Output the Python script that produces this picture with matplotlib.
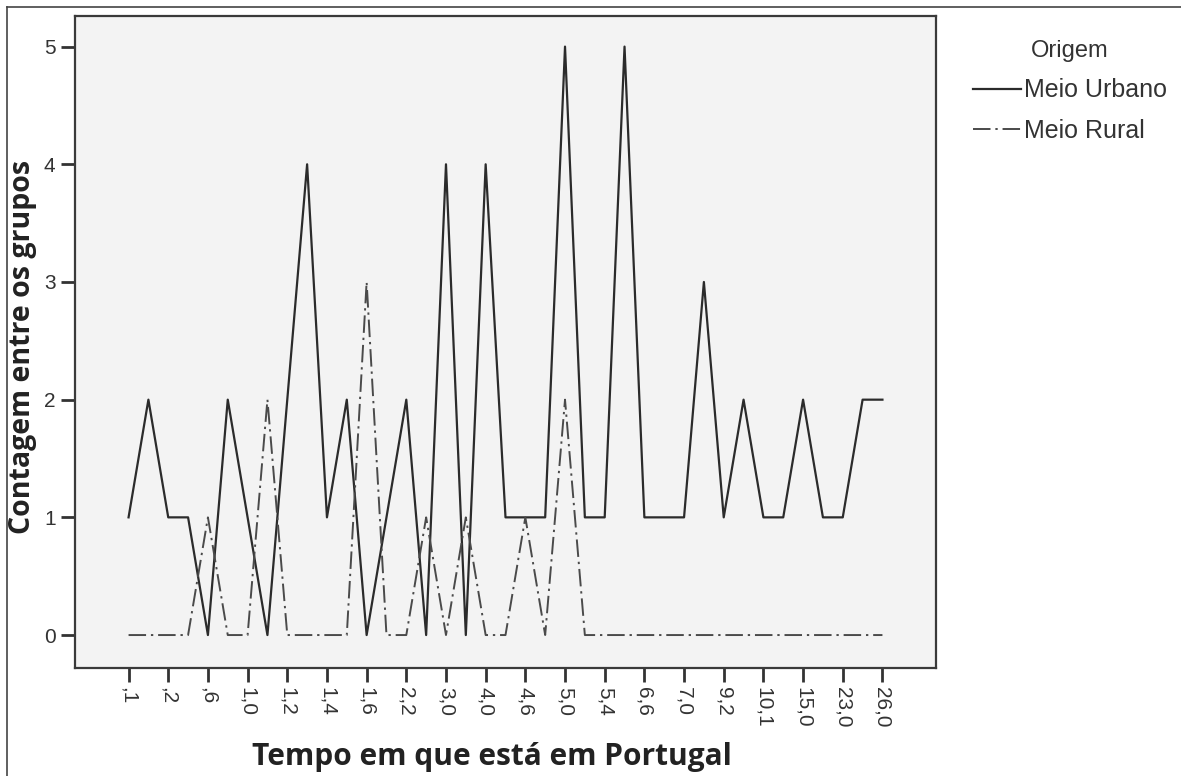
import matplotlib
matplotlib.use("Agg")
import matplotlib.pyplot as plt
from matplotlib.lines import Line2D

# categorias do eixo X (tempo em Portugal, anos) - só os pares aparecem como rótulo
tempo = [",1", ",15", ",2", ",5", ",6", ",8", "1,0", "1,1", "1,2", "1,3",
         "1,4", "1,5", "1,6", "2,0", "2,2", "2,5", "3,0", "3,5", "4,0", "4,5",
         "4,6", "4,8", "5,0", "5,2", "5,4", "6,0", "6,6", "6,8", "7,0", "8,0",
         "9,2", "10,0", "10,1", "12,0", "15,0", "20,0", "23,0", "25,0", "26,0"]

urbano = [1, 2, 1, 1, 0, 2, 1, 0, 2, 4, 1, 2, 0, 1, 2, 0, 4, 0, 4, 1,
          1, 1, 5, 1, 1, 5, 1, 1, 1, 3, 1, 2, 1, 1, 2, 1, 1, 2, 2]
rural = [0, 0, 0, 0, 1, 0, 0, 2, 0, 0, 0, 0, 3, 0, 0, 1, 0, 1, 0, 0,
         1, 0, 2, 0, 0, 0, 0, 0, 0, 0, 0, 0, 0, 0, 0, 0, 0, 0, 0]

x = list(range(len(tempo)))

fig = plt.figure(figsize=(11.81, 7.76), dpi=100)
ax = fig.add_axes([75 / 1181, 1 - 668 / 776, (936 - 75) / 1181, (668 - 16) / 776])
ax.set_facecolor("#f3f3f3")

ax.plot(x, urbano, color="#2b2b2b", linewidth=1.6, label="Meio Urbano")
ax.plot(x, rural, color="#4a4a4a", linewidth=1.4,
        linestyle=(0, (9, 2.5, 1.2, 2.5)), label="Meio Rural")

ax.set_xlim(-2.7, len(x) - 1 + 2.7)
ax.set_ylim(-0.28, 5.26)
ax.set_yticks(range(6))
ax.set_xticks(x[::2])
ax.set_xticklabels(tempo[::2], rotation=-90, family="Liberation Sans",
                   fontsize=15, color="#333333")
for lab in ax.get_yticklabels():
    lab.set_family("Liberation Sans")
ax.tick_params(axis="y", labelsize=15, labelcolor="#333333")
ax.tick_params(axis="both", direction="out", length=10, width=2, color="#333333", pad=4)

for s in ax.spines.values():
    s.set_linewidth(1.6)
    s.set_color("#3a3a3a")

ax.set_xlabel("Tempo em que está em Portugal", fontsize=21.5, fontweight="bold",
              family="Open Sans", color="#222222", va="center")
ax.xaxis.set_label_coords((492 - 75) / 861, (668 - 757) / 652)
ax.set_ylabel("Contagem entre os grupos", fontsize=20.5, fontweight="bold",
              family="Open Sans", color="#222222", va="center", ha="center")
ax.yaxis.set_label_coords((23 - 75) / 861, (668 - 347) / 652)

leg = ax.legend(title="Origem", loc="upper left", bbox_to_anchor=(963 / 1181, 1 - 30 / 776),
                bbox_transform=fig.transFigure, frameon=False, handlelength=1.9,
                handletextpad=0.15, labelspacing=0.65, borderaxespad=0,
                prop={"family": "Liberation Sans", "size": 18})
leg.get_title().set_family("Liberation Sans")
leg.get_title().set_fontsize(17)
leg.get_title().set_color("#333333")
for t in leg.get_texts():
    t.set_color("#333333")

# moldura fina da figura (topo e esquerda)
fig.add_artist(Line2D([7 / 1181, 7 / 1181], [0, 1 - 7 / 776], color="#444444", linewidth=1.2))
fig.add_artist(Line2D([7 / 1181, 1], [1 - 7 / 776, 1 - 7 / 776], color="#444444", linewidth=1.2))

fig.savefig("out.png", dpi=100)
